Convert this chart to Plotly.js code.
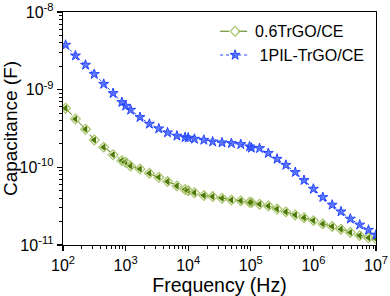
<!DOCTYPE html>
<html>
<head>
<meta charset="utf-8">
<script src="https://cdn.plot.ly/plotly-3.0.1.min.js"></script>
<style>html,body{margin:0;padding:0;background:#fff;}#chart{width:390px;height:296px;}</style>
</head>
<body>
<div id="chart"></div>
<script>
// Frequency (Hz)
const freq = [110, 158, 229, 316, 447, 631, 871, 1000, 1202, 1698, 2399, 3388, 4677, 6607, 8913,
  10000, 12590, 17780, 24550, 34670, 48980, 69180, 95500, 102300, 138000, 190500, 263000,
  363100, 512900, 707900, 1.0e6, 1.413e6, 1.995e6, 2.754e6, 3.89e6, 5.495e6, 7.586e6, 1.0e7];

// Capacitance (F) - 0.6TrGO/CE
const capTrGO = [5.77e-10, 4.20e-10, 3.09e-10, 2.25e-10, 1.82e-10, 1.45e-10, 1.22e-10, 1.16e-10,
  1.04e-10, 9.53e-11, 8.39e-11, 7.46e-11, 6.55e-11, 5.77e-11, 5.19e-11, 5.01e-11, 4.72e-11,
  4.33e-11, 4.20e-11, 4.00e-11, 3.80e-11, 3.70e-11, 3.56e-11, 3.52e-11, 3.35e-11, 3.18e-11,
  2.90e-11, 2.67e-11, 2.44e-11, 2.25e-11, 2.06e-11, 1.87e-11, 1.73e-11, 1.60e-11, 1.45e-11,
  1.32e-11, 1.24e-11, 1.20e-11];

// Capacitance (F) - 1PIL-TrGO/CE
const capPIL = [3.76e-9, 2.74e-9, 2.08e-9, 1.58e-9, 1.18e-9, 8.99e-10, 6.89e-10, 6.17e-10,
  5.48e-10, 4.42e-10, 3.62e-10, 3.15e-10, 2.80e-10, 2.54e-10, 2.43e-10, 2.40e-10, 2.32e-10,
  2.25e-10, 2.14e-10, 2.08e-10, 2.04e-10, 1.98e-10, 1.85e-10, 1.78e-10, 1.76e-10, 1.52e-10,
  1.28e-10, 1.07e-10, 8.65e-11, 6.82e-11, 5.27e-11, 4.12e-11, 3.28e-11, 2.69e-11, 2.17e-11,
  1.82e-11, 1.56e-11, 1.35e-11];

const names = ['0.6TrGO/CE', '\u00a01PIL-TrGO/CE'];

// Tick labels
const xTickVals = [1e2, 1e3, 1e4, 1e5, 1e6, 1e7];
const xTickText = ['10<sup>2</sup>', '10<sup>3</sup>', '10<sup>4</sup>', '10<sup>5</sup>', '10<sup>6</sup>', '10<sup>7</sup>'];
const yTickVals = [1e-11, 1e-10, 1e-9, 1e-8];
const yTickText = ['10<sup>-11</sup>', '10<sup>-10</sup>', '10<sup>-9</sup>', '10<sup>-8</sup>'];

const darkGreen = '#4e7a08';
const lightGreen = '#a9c46a';
const blue = '#2446ff';
const FONT = 'Liberation Sans, Arial, sans-serif';

const traces = [
  {
    x: freq, y: capTrGO, type: 'scatter', mode: 'markers', showlegend: false, hoverinfo: 'skip',
    marker: {symbol: 'triangle-left', size: 7, color: darkGreen, line: {width: 0}}
  },
  {
    x: freq, y: capTrGO, type: 'scatter', mode: 'lines+markers', name: names[0],
    line: {color: darkGreen, width: 1, dash: 'dash'},
    marker: {symbol: 'diamond-open', size: 7.5, color: lightGreen, line: {width: 1.2, color: lightGreen}}
  },
  {
    x: freq, y: capPIL, type: 'scatter', mode: 'lines+markers', name: names[1],
    line: {color: blue, width: 1, dash: 'dot'},
    marker: {symbol: 'star', size: 7.5, color: 'rgba(50,80,255,0.75)', line: {width: 1, color: blue}}
  }
];

const axisCommon = {
  type: 'log',
  showgrid: false,
  zeroline: false,
  showline: true,
  linecolor: '#000',
  linewidth: 1.3,
  mirror: true,
  ticks: 'outside',
  ticklen: 5,
  tickwidth: 1.2,
  tickcolor: '#000',
  tickmode: 'array',
  tickfont: {family: FONT, size: 16, color: '#000'},
  minor: {ticks: 'outside', ticklen: 3, tickwidth: 1, tickcolor: '#000', showgrid: false, dtick: 'D1'}
};

const layout = {
  width: 390, height: 296,
  margin: {l: 63, r: 14, t: 12, b: 51},
  paper_bgcolor: '#fff', plot_bgcolor: '#fff',
  font: {family: FONT, color: '#000'},
  xaxis: Object.assign({}, axisCommon, {
    range: [1.99999, 7.00001],
    tickvals: xTickVals, ticktext: xTickText,
    title: {text: 'Frequency (Hz)', font: {family: FONT, size: 19.5, color: '#000'}, standoff: 0}
  }),
  yaxis: Object.assign({}, axisCommon, {
    range: [-11.00001, -7.99999],
    tickvals: yTickVals, ticktext: yTickText,
    title: {text: 'Capacitance (F)', font: {family: FONT, size: 19, color: '#000'}, standoff: 8}
  }),
  legend: {
    x: 0.486, y: 0.99, xanchor: 'left', yanchor: 'top',
    bgcolor: 'rgba(0,0,0,0)', borderwidth: 0,
    font: {family: FONT, size: 16, color: '#000'},
    tracegroupgap: 0
  },
  showlegend: true
};

Plotly.newPlot('chart', traces, layout, {displayModeBar: false, staticPlot: true});
</script>
</body>
</html>
